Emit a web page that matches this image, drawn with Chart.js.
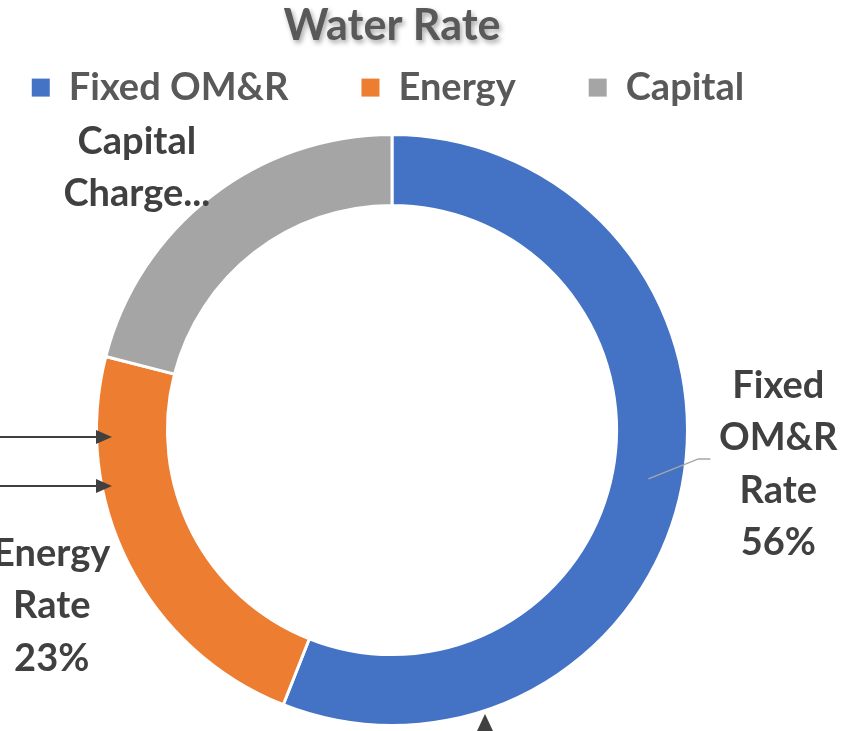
<!DOCTYPE html>
<html>
<head>
<meta charset="utf-8">
<script src="https://cdn.jsdelivr.net/npm/chart.js@4"></script>
<style>
  html, body { margin: 0; padding: 0; background: #fff; }
  #wrap { width: 846px; height: 731px; }
</style>
</head>
<body>
<div id="wrap"><canvas id="water_rate_chart" width="846" height="731"></canvas></div>
<script>
// data
const categories = ["Fixed OM&R", "Energy", "Capital"];
const rate_names = ["Fixed OM&R Rate", "Energy Rate", "Capital Charge Rate"];
const shares = [56, 23, 21];
const slice_colors = ["#4472C4", "#ED7D31", "#A5A5A5"];

// how each data label is broken into lines (capital one is cut off in the original)
const label_lines = [
  ["Fixed", "OM&R", "Rate", shares[0] + "%"],
  ["Energy", "Rate", shares[1] + "%"],
  ["Capital", "Charge..."]
];
// nudge of each label from the outer edge at the slice middle
const label_nudge = [[96, -21], [-77, 42], [-74, -29]];

const FONT = "Lato, Calibri, 'Open Sans', sans-serif";

// legend: keep one row, fixed height, pulled up under the title
const legend_patch = {
  id: "legend_patch",
  beforeInit(chart) {
    const lg = chart.legend;
    const orig_fit = lg.fit.bind(lg);
    lg.fit = function () {
      const mw = this.maxWidth;
      this.maxWidth = 900;
      orig_fit();
      this.maxWidth = mw;
      this.width = mw;
      this.height = 133 - 51.6;
    };
    const orig_legend_draw = lg.draw.bind(lg);
    lg.draw = function () {
      const t = this.top, l = this.left, r = this.right;
      this.top = t - 56;
      this.left = l - 58;
      this.right = r + 50;
      orig_legend_draw();
      this.top = t;
      this.left = l;
      this.right = r;
    };
    // shadow behind the title
    const tb = chart.titleBlock;
    const orig_draw = tb.draw.bind(tb);
    tb.draw = function () {
      const ctx = this.ctx;
      ctx.save();
      ctx.shadowColor = "rgba(0,0,0,0.35)";
      ctx.shadowBlur = 5;
      ctx.shadowOffsetX = 2;
      ctx.shadowOffsetY = 3;
      orig_draw();
      ctx.restore();
    };
  }
};

// data labels outside the ring
const outside_labels = {
  id: "outside_labels",
  afterDatasetsDraw(chart) {
    const ctx = chart.ctx;
    const arcs = chart.getDatasetMeta(0).data;
    ctx.save();
    ctx.font = "bold 38px " + FONT;
    ctx.fillStyle = "#404040";
    ctx.textAlign = "center";
    ctx.textBaseline = "middle";
    arcs.forEach((arc, i) => {
      const p = arc.getProps(["x", "y", "startAngle", "endAngle", "innerRadius", "outerRadius"], true);
      const mid = (p.startAngle + p.endAngle) / 2;
      const ox = p.x + p.outerRadius * Math.cos(mid) + label_nudge[i][0];
      const oy = p.y + p.outerRadius * Math.sin(mid) + label_nudge[i][1];
      const lines = label_lines[i];
      const lh = 52.5;
      const top = oy - (lines.length - 1) * lh / 2;
      lines.forEach((t, j) => ctx.fillText(t, ox, top + j * lh));

      // leader line only for the first slice
      if (i === 0) {
        const rmid = (p.innerRadius + p.outerRadius) / 2 + 1;
        const sx = p.x + rmid * Math.cos(mid);
        const sy = p.y + rmid * Math.sin(mid);
        ctx.strokeStyle = "#A6A6A6";
        ctx.lineWidth = 1.5;
        ctx.beginPath();
        ctx.moveTo(sx, sy);
        ctx.lineTo(sx + 50, sy - 20);
        ctx.lineTo(sx + 62, sy - 20);
        ctx.stroke();
      }
    });
    ctx.restore();
  }
};

// arrows pasted on top of the chart in the original slide
const slide_arrows = {
  id: "slide_arrows",
  afterDraw(chart) {
    const ctx = chart.ctx;
    ctx.save();
    ctx.strokeStyle = "#404040";
    ctx.fillStyle = "#404040";
    ctx.lineWidth = 2;
    [437, 486].forEach(y => {
      ctx.beginPath();
      ctx.moveTo(0, y);
      ctx.lineTo(98, y);
      ctx.stroke();
      ctx.beginPath();
      ctx.moveTo(96, y - 7);
      ctx.lineTo(112, y);
      ctx.lineTo(96, y + 7);
      ctx.closePath();
      ctx.fill();
    });
    ctx.beginPath();
    ctx.moveTo(485, 714);
    ctx.lineTo(493, 731);
    ctx.lineTo(477, 731);
    ctx.closePath();
    ctx.fill();
    ctx.restore();
  }
};

const data_water = {
  labels: categories,
  datasets: [{
    label: "Water Rate",
    data: shares,
    backgroundColor: slice_colors,
    borderColor: "#ffffff",
    borderWidth: 3,
    hoverOffset: 0
  }]
};

const water_config = {
  type: "doughnut",
  data: data_water,
  options: {
    responsive: false,
    animation: false,
    cutout: "76%",
    layout: { padding: { left: 0, right: 62, top: 0, bottom: 4 } },
    plugins: {
      title: {
        display: true,
        text: "Water Rate",
        color: "#595959",
        font: { family: FONT, size: 43, weight: "bold" },
        padding: { top: 0, bottom: 0 }
      },
      legend: {
        display: true,
        position: "top",
        labels: {
          color: "#595959",
          font: { family: FONT, size: 38, weight: "bold" },
          boxWidth: 18,
          boxHeight: 18,
          padding: 73,
          generateLabels(chart) {
            const items = Chart.overrides.doughnut.plugins.legend.labels.generateLabels(chart);
            items.forEach(it => { it.lineWidth = 0; it.strokeStyle = it.fillStyle; });
            return items;
          }
        }
      },
      tooltip: { enabled: false }
    }
  },
  plugins: [legend_patch, outside_labels, slide_arrows]
};

const myWaterChart = new Chart(
  document.getElementById("water_rate_chart"),
  water_config
);
</script>
</body>
</html>
